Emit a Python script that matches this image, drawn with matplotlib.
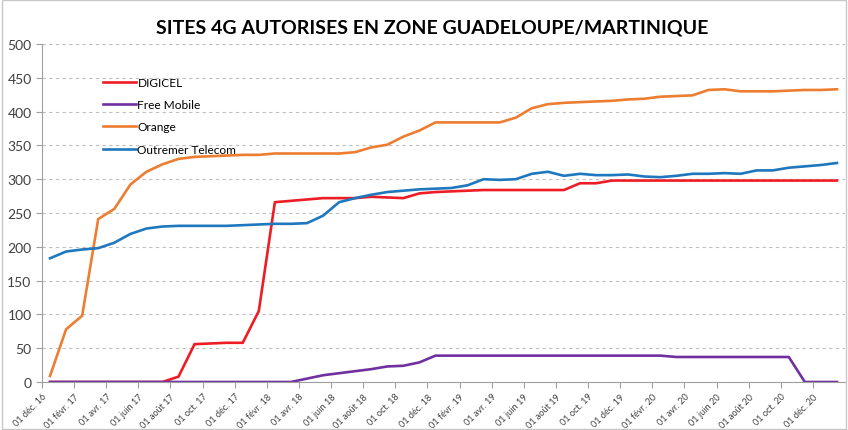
import numpy as np
import matplotlib
matplotlib.use("Agg")
import matplotlib.pyplot as plt

# monthly points, Dec 2016 .. Jan 2021
digicel = [0, 0, 0, 0, 0, 0, 0, 0, 8, 56, 57, 58, 58, 105, 266, 268, 270,
           272, 272, 272, 274, 273, 272, 279, 281, 282, 283, 284, 284, 284,
           284, 284, 284, 294, 294, 298, 298, 298, 298, 298, 298, 298, 298,
           298, 298, 298, 298, 298, 298, 298]
free_mobile = [0, 0, 0, 0, 0, 0, 0, 0, 0, 0, 0, 0, 0, 0, 0, 0, 5,
               10, 13, 16, 19, 23, 24, 29, 39, 39, 39, 39, 39, 39,
               39, 39, 39, 39, 39, 39, 39, 39, 39, 37, 37, 37, 37,
               37, 37, 37, 37, 0, 0, 0]
orange = [9, 78, 98, 241, 256, 292, 311, 322, 330, 333, 334, 335, 336, 336,
          338, 338, 338, 338, 338, 340, 347, 351, 363, 372, 384, 384, 384,
          384, 384, 391, 405, 411, 413, 414, 415, 416, 418, 419, 422, 423,
          424, 432, 433, 430, 430, 430, 431, 432, 432, 433]
outremer = [183, 193, 196, 198, 206, 219, 227, 230, 231, 231, 231, 231, 232,
            233, 234, 234, 235, 246, 266, 272, 277, 281, 283, 285, 286, 287,
            291, 300, 299, 300, 308, 311, 305, 308, 306, 306, 307, 304, 303,
            305, 308, 308, 309, 308, 313, 313, 317, 319, 321, 324]

mois = ["déc.", "févr.", "avr.", "juin", "août", "oct."]
tick_labels = ["01 déc. 16"]
for yy in ["17", "18", "19", "20"]:
    for m in mois[1:]:
        tick_labels.append("01 " + m + " " + yy)
    tick_labels.append("01 déc. " + yy)

series = [("DIGICEL", digicel, "#EE1C25"),
          ("Free Mobile", free_mobile, "#7030A0"),
          ("Orange", orange, "#ED7D31"),
          ("Outremer Telecom", outremer, "#1F77BE")]

plt.rcParams['font.family'] = ['Lato', 'DejaVu Sans']

fig = plt.figure(figsize=(8.48, 4.31), dpi=100)
ax = fig.add_axes([42 / 848, 1 - 383 / 431, 803 / 848, 338 / 431])

x = np.arange(len(digicel)) + 0.5
for name, vals, col in series:
    ax.plot(x, vals, color=col, lw=1.9, label=name)

ax.set_xlim(0, 50)
ax.set_ylim(0, 500)
ax.set_yticks(range(0, 501, 50))
ax.set_xticks(range(0, 49, 2))
ax.set_xticklabels(tick_labels, rotation=45, ha="right", rotation_mode="anchor",
                   fontsize=6.6, color="#404040")
ax.tick_params(axis="y", labelsize=10, colors="#404040", length=4, color="#A0A0A0")
ax.tick_params(axis="x", length=4, color="#A0A0A0", pad=3)
ax.grid(axis="y", ls=(0, (3, 3)), color="#BFBFBF", lw=0.8)
ax.set_axisbelow(True)
for s in ["top", "right"]:
    ax.spines[s].set_visible(False)
ax.spines["left"].set_color("#A0A0A0")
ax.spines["bottom"].set_color("#A0A0A0")

leg = ax.legend(loc="upper left", bbox_to_anchor=(0.063, 0.935), frameon=False,
                fontsize=8.6, handlelength=2.7, handletextpad=0.15, labelspacing=0.95)

fig.text(0.51, 0.935, "SITES 4G AUTORISES EN ZONE GUADELOUPE/MARTINIQUE",
         ha="center", va="center", fontsize=14, fontweight="bold", color="#000000")

fig.patches.append(plt.Rectangle((0.002, 0.003), 0.996, 0.994, transform=fig.transFigure,
                                 fill=False, edgecolor="#C8C8C8", lw=1))

fig.savefig("out.png", dpi=100)
